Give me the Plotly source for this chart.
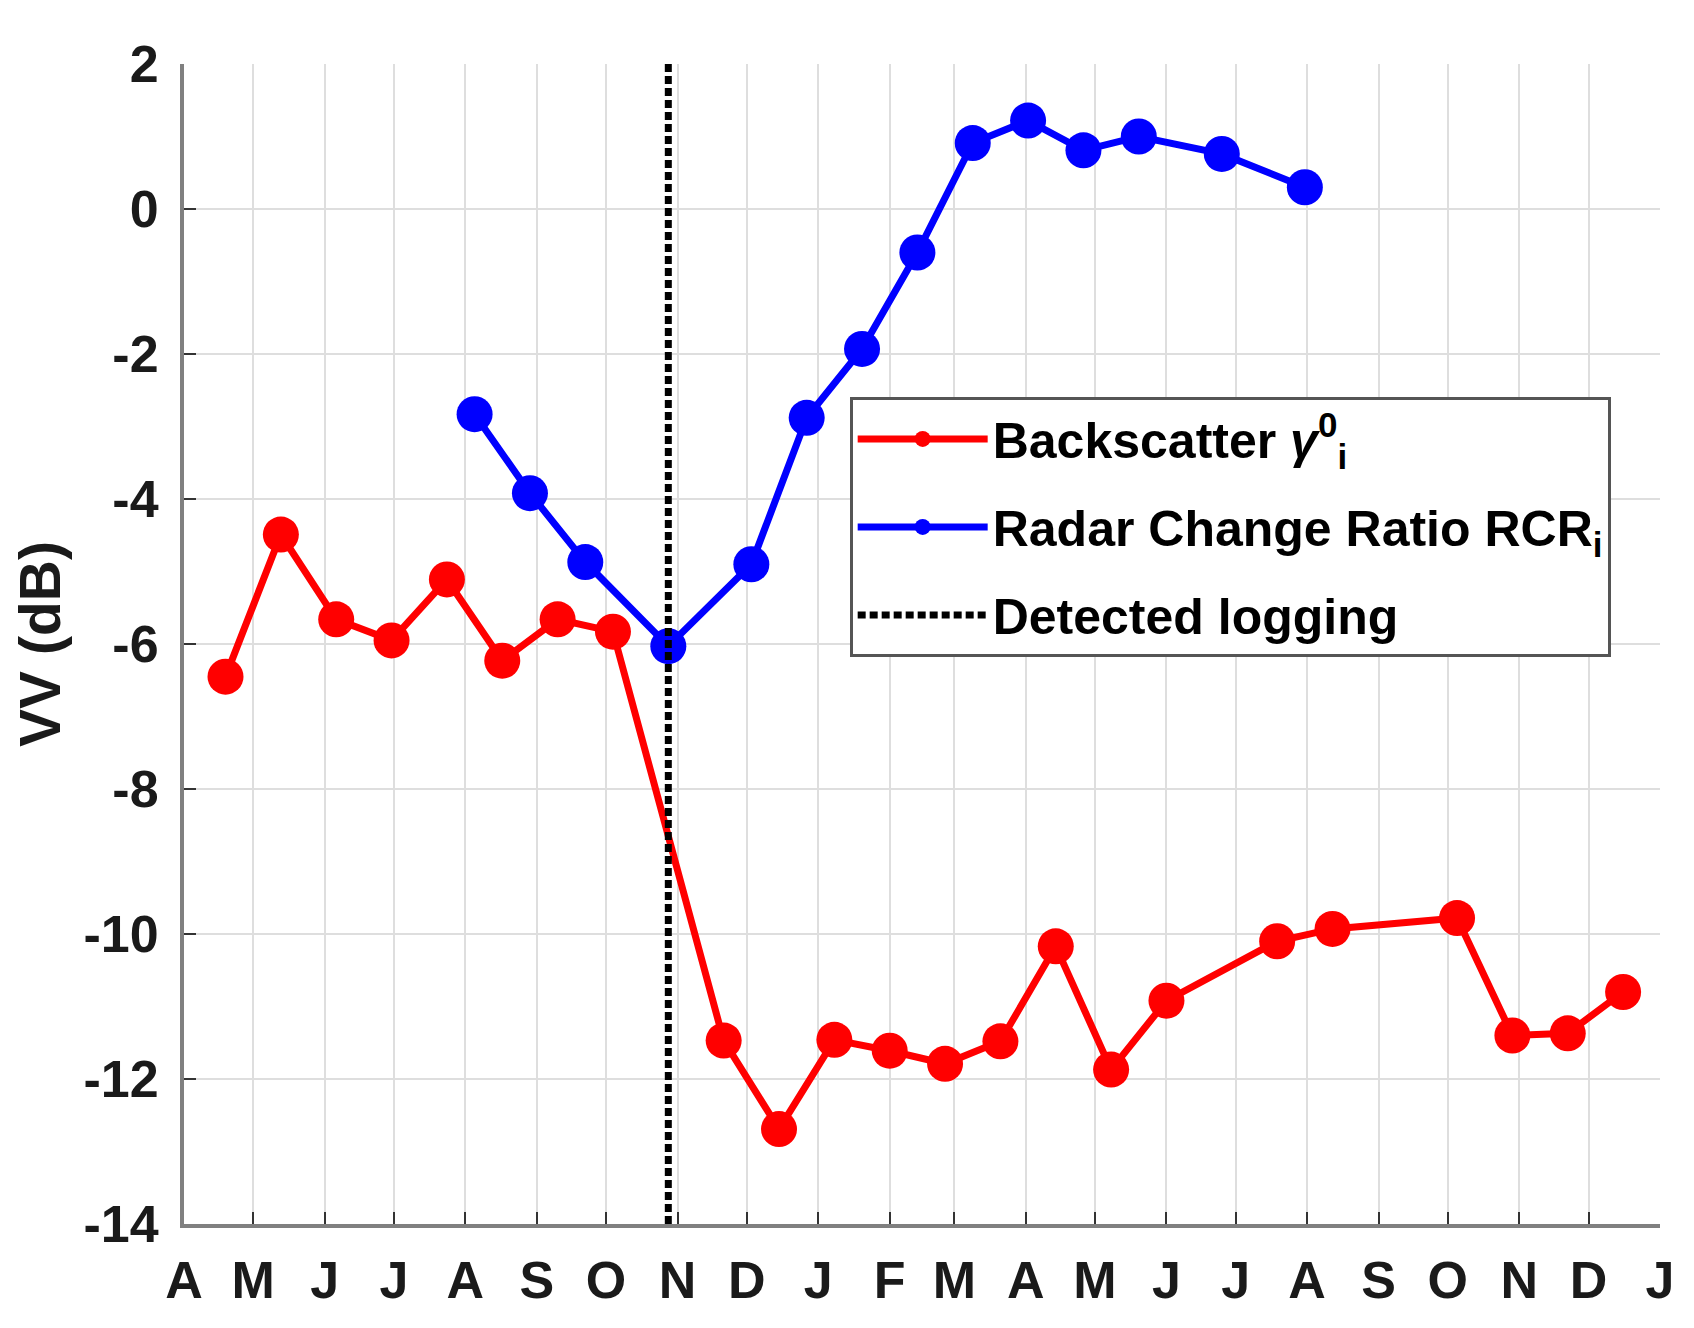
import plotly.graph_objects as go

# Backscatter gamma0 (VV, dB), 24-day acquisitions
backscatter_dates = [
    "2016-04-19", "2016-05-13", "2016-06-06", "2016-06-30", "2016-07-24",
    "2016-08-17", "2016-09-10", "2016-10-04", "2016-11-21", "2016-12-15",
    "2017-01-08", "2017-02-01", "2017-02-25", "2017-03-21", "2017-04-14",
    "2017-05-08", "2017-06-01", "2017-07-19", "2017-08-12", "2017-10-05",
    "2017-10-29", "2017-11-22", "2017-12-16",
]
backscatter_db = [
    -6.45, -4.49, -5.66, -5.95, -5.11,
    -6.23, -5.66, -5.83, -11.47, -12.69,
    -11.46, -11.61, -11.79, -11.48, -10.17,
    -11.87, -10.92, -10.10, -9.93, -9.78,
    -11.40, -11.37, -10.80,
]

# Radar Change Ratio
rcr_dates = [
    "2016-08-05", "2016-08-29", "2016-09-22", "2016-10-28", "2016-12-03",
    "2016-12-27", "2017-01-20", "2017-02-13", "2017-03-09", "2017-04-02",
    "2017-04-26", "2017-05-20", "2017-06-25", "2017-07-31",
]
rcr_db = [
    -2.83, -3.92, -4.87, -6.03, -4.90,
    -2.88, -1.93, -0.60, 0.91, 1.22,
    0.81, 1.00, 0.76, 0.30,
]

logging_date = "2016-10-28"

month_ticks = [
    "2016-04-01", "2016-05-01", "2016-06-01", "2016-07-01", "2016-08-01",
    "2016-09-01", "2016-10-01", "2016-11-01", "2016-12-01", "2017-01-01",
    "2017-02-01", "2017-03-01", "2017-04-01", "2017-05-01", "2017-06-01",
    "2017-07-01", "2017-08-01", "2017-09-01", "2017-10-01", "2017-11-01",
    "2017-12-01", "2018-01-01",
]
month_letters = ["A", "M", "J", "J", "A", "S", "O", "N", "D", "J", "F",
                 "M", "A", "M", "J", "J", "A", "S", "O", "N", "D", "J"]

y_ticks = [-14, -12, -10, -8, -6, -4, -2, 0, 2]
y_tick_labels = ["-14", "-12", "-10", "-8", "-6", "-4", "-2", "0", "2"]
y_range = [-14, 2]
x_range = ["2016-04-01", "2018-01-01"]

FONT = "Liberation Sans"
TXT = "#1a1a1a"

fig = go.Figure()

fig.add_trace(
    go.Scatter(
        x=backscatter_dates,
        y=backscatter_db,
        mode="lines+markers",
        name="Backscatter <i>γ</i><sup>0</sup><sub>i</sub>",
        line=dict(color="#ff0000", width=7),
        marker=dict(color="#ff0000", size=36),
        legendgroup="a",
    )
)
fig.add_trace(
    go.Scatter(
        x=rcr_dates,
        y=rcr_db,
        mode="lines+markers",
        name="Radar Change Ratio RCR<sub>i</sub>",
        line=dict(color="#0000ff", width=7),
        marker=dict(color="#0000ff", size=36),
        legendgroup="b",
    )
)
# detected logging, spans the whole y axis
fig.add_trace(
    go.Scatter(
        x=[logging_date, logging_date],
        y=y_range,
        mode="lines",
        name="Detected logging",
        line=dict(color="black", width=7, dash="8px,4px"),
        legendgroup="c",
    )
)

# page body adds an 8px offset, margins compensate for it
fig.update_layout(
    width=1694,
    height=1328,
    margin=dict(l=176, r=42, t=56, b=112),
    plot_bgcolor="white",
    paper_bgcolor="white",
    font=dict(family=FONT, size=52, color=TXT, weight="bold"),
    xaxis=dict(
        type="date",
        range=x_range,
        tickmode="array",
        tickvals=month_ticks,
        ticktext=month_letters,
        showgrid=True,
        gridcolor="#dedede",
        gridwidth=2,
        showline=True,
        linecolor="#808080",
        linewidth=4,
        ticks="inside",
        ticklen=12,
        tickwidth=2,
        tickcolor="#333333",
        ticklabelstandoff=8,
        tickfont=dict(family=FONT, size=52, color=TXT, weight="bold"),
        zeroline=False,
    ),
    yaxis=dict(
        range=y_range,
        tickmode="array",
        tickvals=y_ticks,
        ticktext=y_tick_labels,
        showgrid=True,
        gridcolor="#dedede",
        gridwidth=2,
        showline=True,
        linecolor="#808080",
        linewidth=4,
        ticks="inside",
        ticklen=12,
        tickwidth=2,
        tickcolor="#333333",
        ticklabelstandoff=11,
        tickfont=dict(family=FONT, size=52, color=TXT, weight="bold"),
        zeroline=False,
        title=dict(
            text="VV (dB)",
            font=dict(family=FONT, size=57, color=TXT, weight="bold"),
            standoff=16,
        ),
    ),
    showlegend=True,
    legend=dict(
        x=0.451,
        y=0.713,
        xanchor="left",
        yanchor="top",
        bgcolor="white",
        bordercolor="#555555",
        borderwidth=3,
        itemwidth=130,
        tracegroupgap=20,
        font=dict(family=FONT, size=50, color="black", weight="bold"),
    ),
)

fig.write_html("out.html")
